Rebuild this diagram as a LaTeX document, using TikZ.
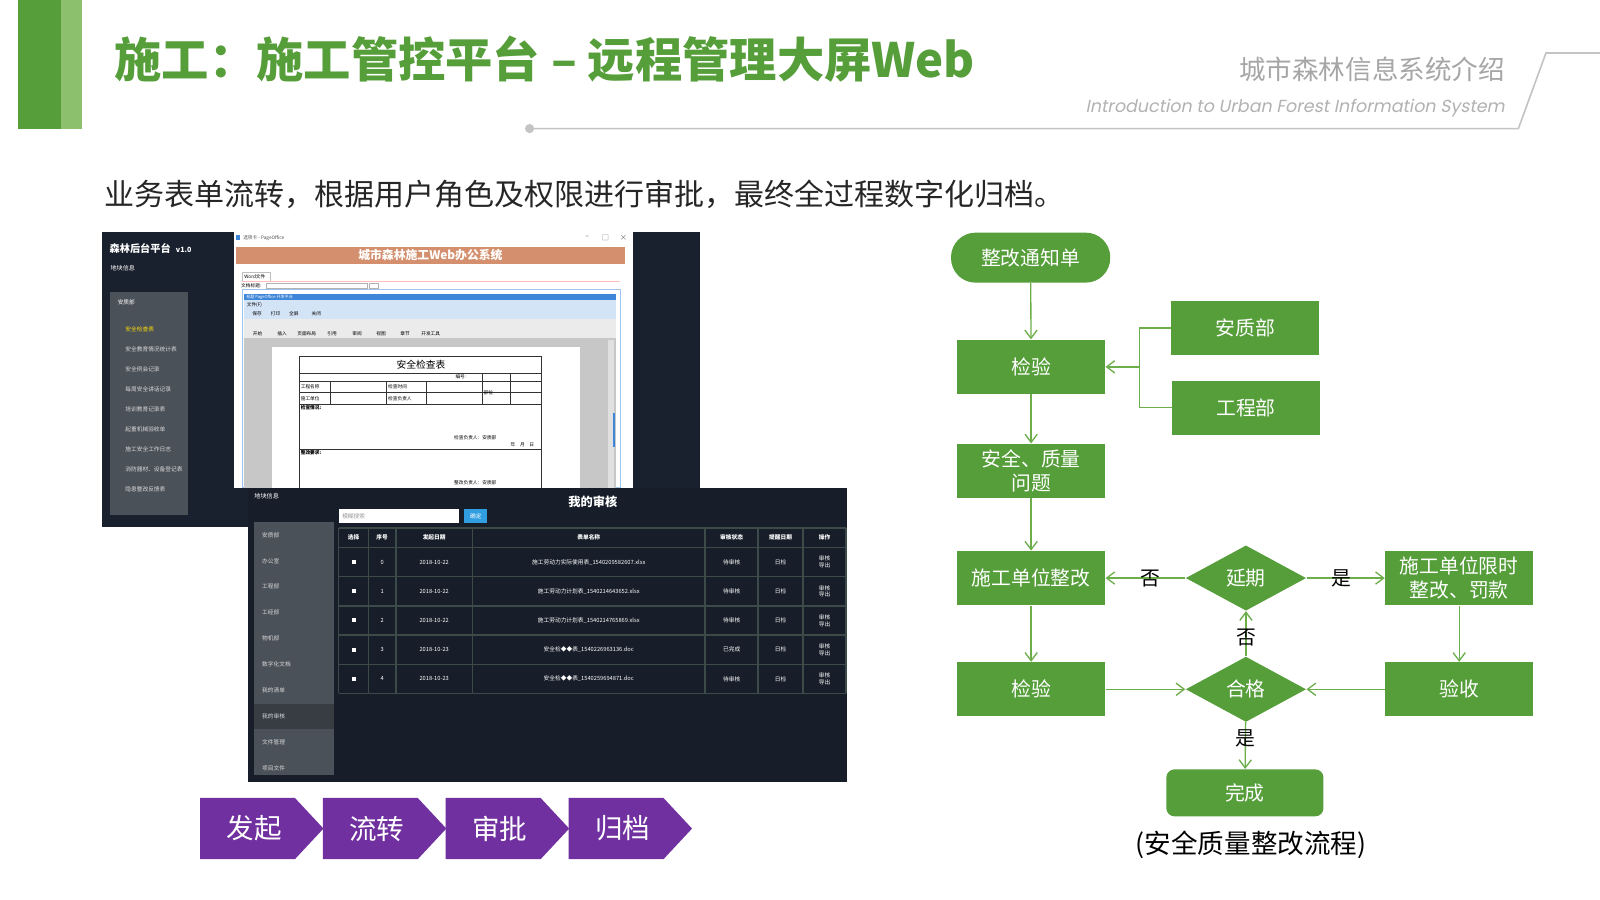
\documentclass[tikz,border=0pt]{standalone}
\usepackage{fontspec}
\setmainfont{Noto Sans CJK SC}
\newfontfamily\entxt{Poppins}[FakeSlant=0.2]
\usetikzlibrary{positioning}
\usetikzlibrary{shapes.geometric}
\usetikzlibrary{arrows.meta}

\definecolor{lvse}{HTML}{559E3A}
\definecolor{qianlv}{HTML}{8CC06D}
\definecolor{xianlv}{HTML}{6CAE4A}
\definecolor{huise}{HTML}{C4C4C4}
\definecolor{zise}{HTML}{7030A0}
\definecolor{shense}{HTML}{1A212E}
\definecolor{cebian}{HTML}{4B5159}
\definecolor{chengse}{HTML}{D4906E}
\definecolor{lanse}{HTML}{3D86D9}
\definecolor{wangge}{HTML}{3C4B47}

\tikzset{
	kuang/.style={rectangle,fill=lvse,text=white,minimum width=72.5pt,minimum height=26.5pt,inner sep=1pt,align=center,font=\fontsize{9.7}{11.5}\selectfont},
	panduan/.style={diamond,fill=lvse,text=white,minimum width=59pt,minimum height=32pt,inner sep=0pt,font=\fontsize{9.7}{11.5}\selectfont},
	liu/.style={draw=xianlv,line width=0.65pt,-{Straight Barb[length=4pt,width=6pt]}},
	biaoqian/.style={text=black,inner sep=0pt,font=\fontsize{9.7}{11.5}\selectfont},
	xiaozi/.style={text=white,inner sep=0pt,anchor=west,font=\fontsize{2.8}{3.2}\selectfont},
	biaoge/.style={text=white,inner sep=0pt,align=center,font=\fontsize{2.8}{3.4}\selectfont},
	wendang/.style={text=black,inner sep=0pt,anchor=west,font=\fontsize{2.3}{2.8}\selectfont},
}

\begin{document}
\begin{tikzpicture}[x=0.5pt,y=-0.5pt]
	\useasboundingbox[fill=white] (0,0) rectangle (1568,882);
	% header
	\fill[lvse] (18,0) rectangle (60,126);
	\fill[qianlv] (60,0) rectangle (80,126);
	\node[anchor=west,inner sep=0pt,text=lvse,font=\bfseries\fontsize{23.17}{28}\selectfont] (biaoti) at (112,58) {施工：施工管控平台 – 远程管理大屏Web};
	\draw[huise,line width=0.8pt] (519,126) -- (1488,126) -- (1515,52) -- (1568,52);
	\fill[huise] (519,126) circle[radius=4.5];
	\node[anchor=east,inner sep=0pt,text=black!35,font=\fontsize{13}{15}\selectfont] (jieshao) at (1475,68) {城市森林信息系统介绍};
	\node[anchor=east,inner sep=0pt,text=black!30,font=\entxt\fontsize{8.56}{10}\selectfont] (yingwen) at (1475,106) {Introduction to Urban Forest Information System};
	\node[anchor=west,inner sep=0pt,text=black!85,font=\fontsize{14.7}{18}\selectfont] (shuoming) at (102,190) {业务表单流转，根据用户角色及权限进行审批，最终全过程数字化归档。};

	% screenshot 1
	\fill[shense] (100,227) rectangle (686,516);
	\fill[cebian] (108,286) rectangle (184,505);
	\node[xiaozi,font=\bfseries\fontsize{5}{6}\selectfont] (pingtai) at (107,243.5) {森林后台平台\enspace{\fontsize{3.5}{4}\selectfont v1.0}};
	\node[xiaozi,font=\fontsize{3}{3.5}\selectfont] (dikuai1) at (108,263) {地块信息};
	\node[xiaozi] (anzhi1) at (115,296.3) {安质部};
	\node[xiaozi,text=yellow!80!orange] (jiancha1) at (122.5,322.4) {安全检查表};
	\foreach \y/\t [count=\i] in {342/安全教育情况统计表,361.6/安全例会记录,381.2/每周安全讲话记录,400.8/培训教育记录表,420.4/起重机械验收单,440/施工安全工作日志,459.6/消防器材、设备登记表,479.2/隐患整改反馈表}
		\node[xiaozi,text=white!85!black] (caidan\i) at (122.5,\y) {\t};
	\fill[white] (229,227) rectangle (620,478);
	\fill[lanse] (231,230.5) rectangle (235,235.5);
	\node[wendang,text=black!70] (chuangkou) at (238,233) {选项卡 - PageOffice};
	\foreach \x/\t [count=\i] in {575.5/–,593.4/□,611/×}
		\node[biaoge,text=black!60,font=\fontsize{3.5}{4}\selectfont] (anniu\i) at (\x,233) {\t};
	\fill[chengse] (231,241.7) rectangle (612.5,258.7);
	\node[text=white,inner sep=0pt,font=\bfseries\fontsize{5.8}{7}\selectfont] (xitong) at (421.8,250) {城市森林施工Web办公系统};
	\draw[black!25,line width=0.3pt] (237.3,275.4) -- (237.3,267.2) -- (264.7,267.2) -- (264.7,275.4);
	\node[wendang] (word) at (239,271.5) {Word文件};
	\draw[red!25,line width=0.6pt] (237,276) -- (608,276);
	\node[wendang] (wdbt) at (236,279.8) {文档标题:};
	\draw[black!30,line width=0.3pt] (261,277.2) rectangle (360,282.6);
	\draw[black!30,line width=0.3pt] (362,277.2) rectangle (371,282.6);
	\draw[lanse!50,line width=0.4pt] (237.3,283.5) rectangle (608,478);
	\fill[lanse] (239,288) rectangle (604,294);
	\node[wendang,text=white,font=\fontsize{2}{2.4}\selectfont] (po) at (241,291) {标题 PageOffice 开发平台};
	\fill[lanse!22] (239,294) rectangle (604,313);
	\node[wendang] (wenjian) at (241.5,299) {文件(F)};
	\foreach \x/\t [count=\i] in {247/保存,265/打印,283/全屏/还原,305/关闭}
		\node[wendang] (gongju\i) at (\x,307) {\t};
	\fill[black!8] (239,313) rectangle (604,331.5);
	\foreach \x/\t [count=\i] in {247.5/开始,271.5/插入,291/页面布局,320.5/引用,345/审阅,368.5/视图,392/章节,412.5/开发工具}
		\node[wendang] (gongneng\i) at (\x,327.3) {\t};
	\fill[black!22] (239,331.5) rectangle (604,478);
	\fill[white] (266.6,339.7) rectangle (568.6,478);
	\fill[black!12] (596,333) rectangle (601.4,478);
	\fill[lanse] (600.5,405) rectangle (603,437.8);
	\draw[black!80,line width=0.35pt] (293.3,478) -- (293.3,349.5) -- (530.9,349.5) -- (530.9,478);
	\foreach \y in {365.9,373.4,384.5,396.2,440}
		\draw[black!80,line width=0.35pt] (293.3,\y) -- (530.9,\y);
	\foreach \x in {323.8,379,418}
		\draw[black!80,line width=0.35pt] (\x,373.4) -- (\x,396.2);
	\foreach \x in {472.9,500.4}
		\draw[black!80,line width=0.35pt] (\x,365.9) -- (\x,396.2);
	\node[text=black,inner sep=0pt,font=\fontsize{4.8}{5.5}\selectfont] (jcb) at (412.6,357.7) {安全检查表};
	\node[wendang] (bianhao) at (446,369.6) {编号:};
	\node[wendang] (gcmc) at (294.4,379) {工程名称};
	\node[wendang] (sgdw) at (294.4,390.4) {施工单位};
	\node[wendang] (jcsj) at (380,379) {检查时间};
	\node[wendang] (jcfzr) at (380,390.4) {检查负责人};
	\node[wendang] (buwei) at (473.6,384.5) {部位};
	\node[wendang,font=\bfseries\fontsize{2.3}{2.8}\selectfont] (jcqk) at (294.4,399.5) {检查情况:};
	\node[wendang] (qianming1) at (444.7,428.6) {检查负责人：安质部};
	\node[wendang] (nianyue) at (500,436) {年\quad 月\quad 日};
	\node[wendang,font=\bfseries\fontsize{2.3}{2.8}\selectfont] (zgyq) at (294.4,443.6) {整改要求:};
	\node[wendang] (qianming2) at (444.7,472.7) {整改负责人：安质部};

	% screenshot 2
	\fill[shense!90!black] (243,478.5) rectangle (830,766);
	\node[xiaozi,font=\fontsize{3}{3.5}\selectfont] (dikuai2) at (249,486) {地块信息};
	\node[text=white,inner sep=0pt,font=\bfseries\fontsize{6}{7}\selectfont] (shenhe) at (580.9,491.7) {我的审核};
	\fill[white] (332,499.3) rectangle (450.3,513);
	\node[xiaozi,text=black!40] (sousuo) at (335,506.2) {模糊搜索};
	\fill[lanse!80!cyan] (455,499.3) rectangle (477.6,513);
	\node[biaoge] (queding) at (466.3,506.2) {确定};
	\fill[cebian] (249,511.9) rectangle (327.4,759.6);
	\fill[cebian!75!black] (249,690) rectangle (327.4,714.8);
	\foreach \y/\t [count=\i] in {524.3/安质部,549.8/办公室,575/工程部,600.4/工经部,625.9/物机部,651.1/数字化文档,676.5/我的清单,702/我的审核,727.2/文件管理,752.7/项目文件}
		\node[xiaozi,text=white!85!black] (bumen\i) at (256.5,\y) {\t};
	\foreach \x in {332,361,388,463,691,743,787,829}
		\draw[wangge,line width=0.7pt] (\x,517.6) -- (\x,679.5);
	\foreach \y in {517.6,536.6,565.1,593.8,622.3,651.1,679.5}
		\draw[wangge,line width=0.7pt] (332,\y) -- (829,\y);
	\foreach \x/\t [count=\i] in {346.5/选择,374.5/序号,425.5/发起日期,577/表单名称,717/审核状态,765/提醒日期,808/操作}
		\node[biaoge,font=\bfseries\fontsize{2.8}{3.4}\selectfont] (biaotou\i) at (\x,527) {\t};
	\foreach \y/\n/\riqi/\ming/\zt in {551/0/2018-10-22/施工劳动力实际使用表\_1540209582607.xlsx/待审核,579.5/1/2018-10-22/施工劳动力计划表\_1540214643652.xlsx/待审核,608/2/2018-10-22/施工劳动力计划表\_1540214765869.xlsx/待审核,636.7/3/2018-10-23/安全检◆◆表\_1540226963136.doc/已完成,665.3/4/2018-10-23/安全检◆◆表\_1540259694871.doc/待审核}{
		\fill[white] (344.5,\y-2) rectangle (348.5,\y+2);
		\node[biaoge] (xuhao\n) at (374.5,\y) {\n};
		\node[biaoge] (riqi\n) at (425.5,\y) {\riqi};
		\node[biaoge] (ming\n) at (577,\y) {\ming};
		\node[biaoge] (zhuangtai\n) at (717,\y) {\zt};
		\node[biaoge] (tixing\n) at (765,\y) {日检};
		\node[biaoge] (caozuo\n) at (808,\y) {审核\\导出};
	}

	% steps
	\foreach \wz/\x [count=\i] in {发起/196,流转/316.4,审批/436.8,归档/557.2}{
		\fill[zise] (\x,782) -- ++(93,0) -- ++(28,30) -- ++(-28,30) -- ++(-93,0) -- cycle;
		\node[text=white,inner sep=0pt,font=\fontsize{13.5}{15}\selectfont] (buzhou\i) at (\x+53,812) {\wz};
	}

	% flow chart
	\node[kuang,rounded corners=12pt,minimum width=78pt,minimum height=24.5pt] (tongzhi) at (1010,252.5) {整改通知单};
	\node[kuang] (jianyan1) at (1010.5,359.5) {检验};
	\node[kuang] (anzhi) at (1220.5,321.5) {安质部};
	\node[kuang] (gongcheng) at (1221,399.5) {工程部};
	\node[kuang] (wenti) at (1010.5,461.5) {安全、质量\\问题};
	\node[kuang] (zhenggai) at (1010.5,566.5) {施工单位整改};
	\node[panduan] (yanqi) at (1221,566.5) {延期};
	\node[kuang] (xianshi) at (1430,566.5) {施工单位限时\\整改、罚款};
	\node[kuang] (jianyan2) at (1010.5,675.5) {检验};
	\node[panduan] (hege) at (1221,675.5) {合格};
	\node[kuang] (yanshou) at (1430,675.5) {验收};
	\node[kuang,rounded corners=4pt,minimum width=77pt,minimum height=23pt] (wancheng) at (1220,777) {完成};
	\node[inner sep=0pt,text=black,font=\fontsize{13}{15}\selectfont] (tuming) at (1226,828) {(安全质量整改流程)};
	\coordinate (huizong) at (1117,359.5);

	\draw[liu] (tongzhi) -- (jianyan1);
	\draw[draw=xianlv,line width=0.65pt] (anzhi.west) -| (huizong) |- (gongcheng.west);
	\draw[liu] (huizong) -- (jianyan1);
	\draw[liu] (jianyan1) -- (wenti);
	\draw[liu] (wenti) -- (zhenggai);
	\draw[liu] (yanqi) -- node[biaoqian,pos=0.44] {否} (zhenggai);
	\draw[liu] (yanqi) -- node[biaoqian,pos=0.44] {是} (xianshi);
	\draw[liu] (zhenggai) -- (jianyan2);
	\draw[liu] (xianshi) -- (yanshou);
	\draw[liu] (jianyan2) -- (hege);
	\draw[liu] (yanshou) -- (hege);
	\draw[liu] (hege) -- node[biaoqian,pos=0.42] {否} (yanqi);
	\draw[liu] (hege) -- node[biaoqian,pos=0.35] {是} (wancheng);
\end{tikzpicture}
\end{document}
